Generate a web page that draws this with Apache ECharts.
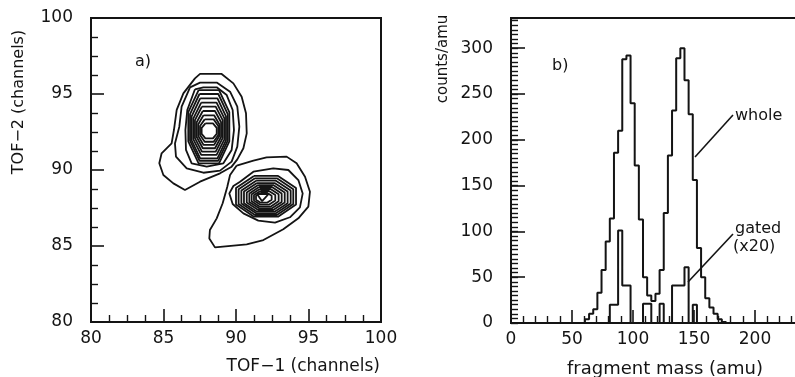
<!DOCTYPE html>
<html>
<head>
<meta charset="utf-8">
<script src="https://cdn.jsdelivr.net/npm/echarts/dist/echarts.min.js"></script>
<style>
  html, body { margin: 0; padding: 0; background: #fff; }
  #chart { width: 795px; height: 377px; }
</style>
</head>
<body>
<div id="chart"></div>
<script>
// ---- panel a) contour lines (TOF-1, TOF-2 in channels)
const leftOuter = [
  [87.17, 96.03], [87.52, 96.32], [89.01, 96.32], [89.82, 95.70], [90.39, 94.82], [90.69, 93.73],
  [90.74, 92.41], [90.51, 91.43], [90.09, 90.70], [89.70, 90.22], [88.90, 89.78], [87.52, 89.23],
  [86.48, 88.68], [85.68, 89.12], [84.99, 89.67], [84.71, 90.44], [84.87, 91.10], [85.56, 91.75],
  [85.72, 92.63], [85.91, 93.95], [86.37, 95.04]
];
const leftSecond = [
  [86.83, 95.44], [87.52, 95.75], [88.67, 95.75], [89.59, 95.15], [90.09, 94.17], [90.23, 92.85],
  [90.09, 91.54], [89.70, 90.55], [88.90, 89.96], [87.75, 89.82], [86.60, 90.11], [85.86, 90.88],
  [85.79, 91.75], [86.09, 92.85], [86.25, 94.17]
];
const leftThird = [
  [87.17, 95.31], [87.75, 95.44], [88.67, 95.44], [89.36, 94.93], [89.77, 93.95], [89.86, 92.63],
  [89.70, 91.32], [89.13, 90.44], [87.98, 90.22], [86.94, 90.44], [86.55, 91.32], [86.51, 92.63],
  [86.64, 93.95]
];
const leftInner = [
  [[87.42, 95.26], [88.83, 95.26], [89.54, 93.81], [89.54, 91.89], [88.83, 90.44], [87.42, 90.44], [86.71, 91.89], [86.71, 93.81]],
  [[87.48, 95.00], [88.78, 95.00], [89.43, 93.68], [89.43, 91.93], [88.78, 90.61], [87.48, 90.61], [86.83, 91.93], [86.83, 93.68]],
  [[87.53, 94.71], [88.72, 94.71], [89.31, 93.53], [89.31, 91.95], [88.72, 90.77], [87.53, 90.77], [86.94, 91.95], [86.94, 93.53]],
  [[87.60, 94.43], [88.66, 94.43], [89.20, 93.40], [89.20, 92.02], [88.66, 90.99], [87.60, 90.99], [87.06, 92.02], [87.06, 93.40]],
  [[87.65, 94.17], [88.60, 94.17], [89.08, 93.28], [89.08, 92.10], [88.60, 91.21], [87.65, 91.21], [87.17, 92.10], [87.17, 93.28]],
  [[87.71, 93.88], [88.55, 93.88], [88.97, 93.14], [88.97, 92.17], [88.55, 91.43], [87.71, 91.43], [87.29, 92.17], [87.29, 93.14]],
  [[87.76, 93.60], [88.49, 93.60], [88.85, 93.01], [88.85, 92.24], [88.49, 91.65], [87.76, 91.65], [87.40, 92.24], [87.40, 93.01]],
  [[87.84, 93.33], [88.46, 93.33], [88.78, 92.89], [88.78, 92.30], [88.46, 91.86], [87.84, 91.86], [87.52, 92.30], [87.52, 92.89]],
  [[87.89, 93.07], [88.41, 93.07], [88.67, 92.77], [88.67, 92.38], [88.41, 92.08], [87.89, 92.08], [87.63, 92.38], [87.63, 92.77]]
];
const rightOuter = [
  [90.05, 90.29], [91.20, 90.61], [92.11, 90.83], [93.49, 90.88], [94.18, 90.44], [94.76, 89.56],
  [95.10, 88.57], [94.99, 87.59], [94.30, 86.82], [93.26, 86.10], [91.89, 85.39], [90.74, 85.11],
  [88.55, 84.91], [88.16, 85.50], [88.20, 86.05], [88.67, 86.82], [89.08, 87.81], [89.40, 88.90],
  [89.59, 89.67]
];
const rightSecond = [
  [90.28, 89.23], [91.20, 89.89], [92.57, 90.11], [93.61, 90.00], [94.30, 89.34], [94.60, 88.46],
  [94.41, 87.54], [93.72, 86.89], [92.69, 86.54], [91.54, 86.67], [90.51, 87.15], [89.77, 87.76],
  [89.54, 88.46], [89.82, 88.95]
];
const rightInner = [
  [[91.24, 89.61], [92.90, 89.61], [94.14, 88.81], [94.14, 87.73], [92.90, 86.93], [91.24, 86.93], [90.00, 87.73], [90.00, 88.81]],
  [[91.31, 89.45], [92.82, 89.45], [93.95, 88.73], [93.95, 87.76], [92.82, 87.04], [91.31, 87.04], [90.18, 87.76], [90.18, 88.73]],
  [[91.39, 89.30], [92.75, 89.30], [93.77, 88.65], [93.77, 87.80], [92.75, 87.15], [91.39, 87.15], [90.37, 87.80], [90.37, 88.65]],
  [[91.45, 89.14], [92.66, 89.14], [93.56, 88.58], [93.56, 87.82], [92.66, 87.26], [91.45, 87.26], [90.55, 87.82], [90.55, 88.58]],
  [[91.53, 89.01], [92.57, 89.01], [93.36, 88.52], [93.36, 87.86], [92.57, 87.37], [91.53, 87.37], [90.74, 87.86], [90.74, 88.52]],
  [[91.59, 88.88], [92.48, 88.88], [93.15, 88.46], [93.15, 87.90], [92.48, 87.48], [91.59, 87.48], [90.92, 87.90], [90.92, 88.46]],
  [[91.64, 88.75], [92.38, 88.75], [92.94, 88.40], [92.94, 87.94], [92.38, 87.59], [91.64, 87.59], [91.08, 87.94], [91.08, 88.40]],
  [[91.68, 88.62], [92.27, 88.62], [92.71, 88.35], [92.71, 87.99], [92.27, 87.72], [91.68, 87.72], [91.24, 87.99], [91.24, 88.35]],
  [[91.70, 88.51], [92.14, 88.51], [92.46, 88.31], [92.46, 88.05], [92.14, 87.85], [91.70, 87.85], [91.38, 88.05], [91.38, 88.31]],
  [[91.45, 88.42], [92.25, 88.42], [91.80, 87.95]]
];

// ---- panel b) mass histograms (bin edges in amu, counts/amu)
const massEdges = [60.6, 64.0, 67.4, 70.8, 74.2, 77.6, 81.0, 84.4, 87.8, 91.2, 94.6, 98.0,
  101.4, 104.8, 108.2, 111.6, 115.0, 118.4, 121.8, 125.2, 128.6, 132.0, 135.4, 138.8,
  142.2, 145.6, 149.0, 152.4, 155.8, 159.2, 162.6, 166.0, 169.4, 172.8, 176.2];
const wholeCounts = [4, 10, 15, 33, 58, 89, 114, 186, 210, 288, 292, 240,
  172, 113, 50, 30, 24, 32, 58, 120, 183, 232, 289, 300,
  265, 228, 156, 82, 50, 27, 17, 10, 4, 1];
const gatedCounts = [0, 0, 0, 0, 0, 0, 20, 20, 101, 41, 41, 0,
  0, 0, 21, 21, 0, 0, 21, 0, 0, 41, 41, 41,
  61, 0, 20, 0, 0, 0, 0, 0, 0, 0];

const FONT = 'DejaVu Sans';
const INK = '#141414';

function closeRing(pts) {
  return pts.concat([pts[0]]);
}

function stepData(edges, counts) {
  let pts = [[edges[0], 0]];
  counts.forEach(function (c, i) { pts.push([edges[i], c]); });
  pts.push([edges[edges.length - 1], 0]);
  return pts;
}

let series = [];
let rings = [leftOuter, leftSecond, leftThird].concat(leftInner)
  .concat([rightOuter, rightSecond]).concat(rightInner);
rings.forEach(function (r) {
  series.push({
    type: 'line', xAxisIndex: 0, yAxisIndex: 0,
    data: closeRing(r), symbol: 'none', silent: true,
    lineStyle: {color: INK, width: 1.8}
  });
});
series.push({
  type: 'line', xAxisIndex: 1, yAxisIndex: 1, step: 'end',
  data: stepData(massEdges, wholeCounts), symbol: 'none', silent: true,
  lineStyle: {color: INK, width: 2}
});
series.push({
  type: 'line', xAxisIndex: 1, yAxisIndex: 1, step: 'end',
  data: stepData(massEdges, gatedCounts), symbol: 'none', silent: true,
  lineStyle: {color: INK, width: 2}
});

const labelStyle = {color: INK, fontSize: 17, fontFamily: FONT};
const lineStyle = {color: INK, width: 2};

function valueAxis(extra) {
  return Object.assign({
    type: 'value',
    axisLine: {show: true, lineStyle: lineStyle},
    axisTick: {show: true, inside: true, length: 13, lineStyle: {color: INK, width: 1.6}},
    minorTick: {show: true, length: 7, lineStyle: {color: INK, width: 1.4}},
    splitLine: {show: false},
    minorSplitLine: {show: false},
    axisLabel: Object.assign({margin: 8}, labelStyle)
  }, extra);
}

let chart = echarts.init(document.getElementById('chart'));
let option = {
  animation: false,
  backgroundColor: '#fff',
  grid: [
    {left: 91, top: 18, width: 290, height: 304, show: true, borderColor: INK, borderWidth: 2,
      containLabel: false, outerBoundsMode: 'none'},
    {left: 511, top: 18, width: 305, height: 305, show: true, borderColor: INK, borderWidth: 2,
      containLabel: false, outerBoundsMode: 'none'}
  ],
  xAxis: [
    valueAxis({gridIndex: 0, min: 80, max: 100, interval: 5, minorTick: {show: true, splitNumber: 4, length: 7, lineStyle: {color: INK, width: 1.4}}}),
    valueAxis({gridIndex: 1, min: 0, max: 250, interval: 50, minorTick: {show: true, splitNumber: 5, length: 7, lineStyle: {color: INK, width: 1.4}}})
  ],
  yAxis: [
    valueAxis({gridIndex: 0, min: 80, max: 100, interval: 5,
      axisLabel: Object.assign({margin: 18}, labelStyle),
      minorTick: {show: true, splitNumber: 4, length: 7, lineStyle: {color: INK, width: 1.4}}}),
    valueAxis({gridIndex: 1, position: 'left', min: 0, max: 333, interval: 50,
      axisTick: {show: true, inside: true, length: 14, lineStyle: {color: INK, width: 1.6}},
      minorTick: {show: false},
      axisLabel: Object.assign({margin: 18, showMaxLabel: false}, labelStyle)}),
    valueAxis({gridIndex: 1, position: 'left', min: 0, max: 333, interval: 5,
      axisLine: {show: false},
      axisTick: {show: true, inside: true, length: 7, lineStyle: {color: INK, width: 1.4}},
      minorTick: {show: false},
      axisLabel: {show: false}})
  ],
  graphic: [
    {type: 'text', x: 19, y: 102, rotation: Math.PI / 2,
      style: {text: 'TOF\u22122 (channels)', font: '16px "DejaVu Sans"', fill: INK, textAlign: 'center', textVerticalAlign: 'middle'}},
    {type: 'text', x: 380, y: 367,
      style: {text: 'TOF\u22121 (channels)', font: '17px "DejaVu Sans"', fill: INK, textAlign: 'right', textVerticalAlign: 'middle'}},
    {type: 'text', x: 135, y: 62,
      style: {text: 'a)', font: '16px "DejaVu Sans"', fill: INK, textAlign: 'left', textVerticalAlign: 'middle'}},
    {type: 'text', x: 443, y: 59, rotation: Math.PI / 2,
      style: {text: 'counts/amu', font: '15px "DejaVu Sans"', fill: INK, textAlign: 'center', textVerticalAlign: 'middle'}},
    {type: 'text', x: 665, y: 369,
      style: {text: 'fragment mass (amu)', font: '18px "DejaVu Sans"', fill: INK, textAlign: 'center', textVerticalAlign: 'middle'}},
    {type: 'text', x: 552, y: 66,
      style: {text: 'b)', font: '16px "DejaVu Sans"', fill: INK, textAlign: 'left', textVerticalAlign: 'middle'}},
    {type: 'text', x: 735, y: 116,
      style: {text: 'whole', font: '16px "DejaVu Sans"', fill: INK, textAlign: 'left', textVerticalAlign: 'middle'}},
    {type: 'text', x: 735, y: 229,
      style: {text: 'gated', font: '16px "DejaVu Sans"', fill: INK, textAlign: 'left', textVerticalAlign: 'middle'}},
    {type: 'text', x: 733, y: 247,
      style: {text: '(x20)', font: '16px "DejaVu Sans"', fill: INK, textAlign: 'left', textVerticalAlign: 'middle'}},
    {type: 'line', shape: {x1: 695, y1: 157, x2: 733, y2: 115}, style: {stroke: INK, lineWidth: 1.6}},
    {type: 'line', shape: {x1: 688, y1: 282, x2: 733, y2: 234}, style: {stroke: INK, lineWidth: 1.6}}
  ],
  series: series
};
chart.setOption(option);
</script>
</body>
</html>
